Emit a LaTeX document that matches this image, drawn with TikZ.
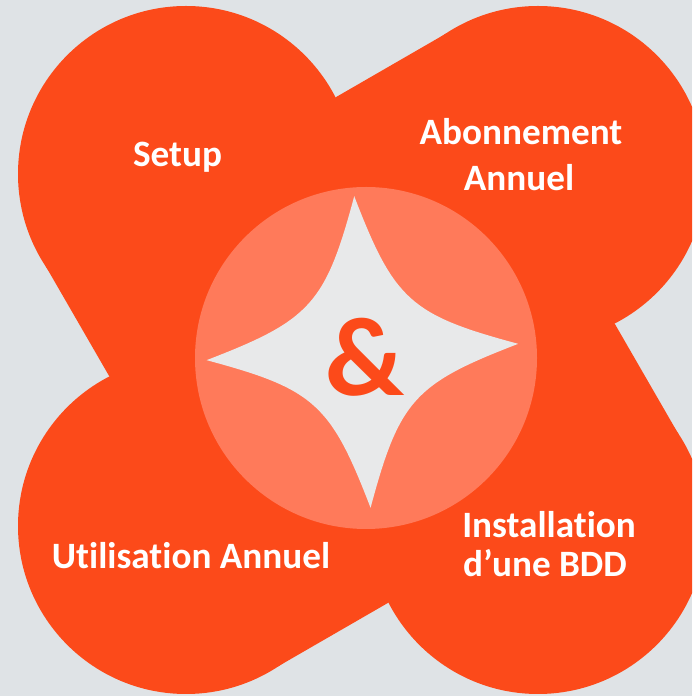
\documentclass[tikz,border=0pt]{standalone}
\usepackage{fontspec}
\setmainfont{Carlito}[Ligatures=NoCommon]
\usepackage{tikz}
\usepackage{xcolor}
\definecolor{bggrey}{HTML}{DFE3E6}
\definecolor{mainorange}{HTML}{FC4A1A}
\definecolor{lightorange}{HTML}{FF7A5A}
\definecolor{stargrey}{HTML}{E8E9EA}

\begin{document}
\begin{tikzpicture}[x=0.5pt,y=0.5pt]
\tikzstyle{lobe} =[fill=mainorange]
\tikzstyle{lobetext} =[text=white,font=\bfseries\fontsize{18.6}{22}\selectfont,inner sep=0pt,anchor=base]

\useasboundingbox (0,0) rectangle (692,696);
\fill[bggrey] (0,0) rectangle (692,696);

\begin{scope}
\clip (0,0) rectangle (692,696);
\fill[lobe] (186,522) circle[radius=168];
\fill[lobe] (538,522) circle[radius=168];
\fill[lobe] (186,170) circle[radius=168];
\fill[lobe] (538,170) circle[radius=168];
\fill[lobe,shift={(362,346)},rotate=30] (-232,-232) -- (232,-232) -- (232,232) -- (-232,232) -- cycle;
\end{scope}

\fill[lightorange] (366,338) circle[radius=171];
\fill[stargrey,shift={(362.4,344)},rotate=3] (0,156) .. controls (34.5,50) and (50,34.5) .. (156,0)
  .. controls (50,-34.5) and (34.5,-50) .. (0,-156)
  .. controls (-34.5,-50) and (-50,-34.5) .. (-156,0)
  .. controls (-50,34.5) and (-34.5,50) .. cycle;

\node[text=mainorange,font=\bfseries\fontsize{56}{60}\selectfont,inner sep=0pt](amp) at (365,339){\&};

\node[lobetext](setup) at (177.5,529.3){Setup};
\node[lobetext](abo) at (521,551){Abonnement};
\node[lobetext](aboyear) at (519,505.3){Annuel};
\node[lobetext](util) at (191,127){Utilisation Annuel};
\node[lobetext](install) at (549,158.3){Installation};
\node[lobetext](bdd) at (545,119.3){d’une BDD};
\end{tikzpicture}
\end{document}
